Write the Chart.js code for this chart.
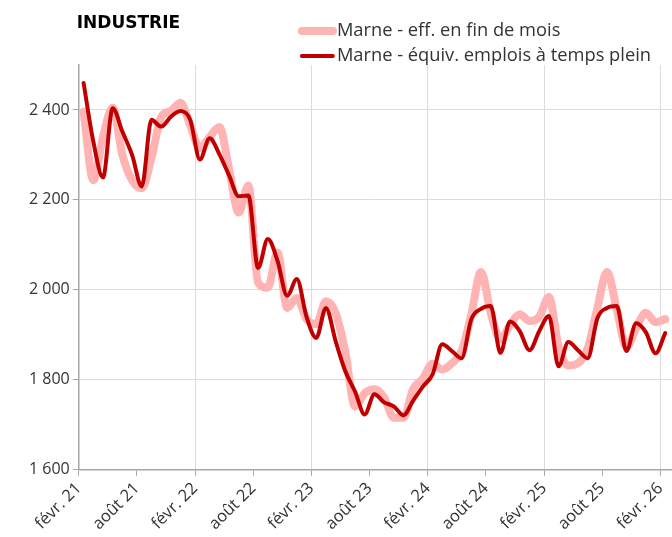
<!DOCTYPE html>
<html>
<head>
<meta charset="utf-8">
<script src="https://cdn.jsdelivr.net/npm/chart.js@4/dist/chart.umd.min.js"></script>
<style>
  html, body { margin: 0; padding: 0; background: #fff; }
</style>
</head>
<body>
<canvas id="chart" width="672" height="537"></canvas>
<script>
// Chart title and series names
const chartTitle = 'INDUSTRIE';
const seriesNames = ['Marne - eff. en fin de mois', 'Marne - équiv. emplois à temps plein'];

// Tick labels on the x axis, one every 6 months (févr. 21 -> févr. 26)
const xTickLabels = ['févr. 21', 'août 21', 'févr. 22', 'août 22', 'févr. 23', 'août 23',
                     'févr. 24', 'août 24', 'févr. 25', 'août 25', 'févr. 26'];

// Monthly values, févr. 2021 to févr. 2026 (61 months)
const effectifs = [
    2396, 2244, 2340, 2405, 2300, 2244, 2226, 2293, 2384, 2398, 2416, 2366,
    2315, 2340, 2362, 2270, 2172, 2232, 2016, 2005, 2083, 1960, 1982, 1935,
    1924, 1975, 1949, 1862, 1741, 1770, 1779, 1761, 1716, 1716, 1779, 1803,
    1836, 1823, 1837, 1864, 1946, 2040, 1949, 1890, 1922, 1946, 1931, 1940,
    1984, 1875, 1832, 1837, 1870, 1960, 2040, 1957, 1873, 1915, 1949, 1928,
    1935
];
const equivTempsPlein = [
    2460, 2330, 2250, 2404, 2352, 2300, 2230, 2378, 2363, 2385, 2398, 2378,
    2290, 2337, 2302, 2255, 2208, 2210, 2049, 2113, 2065, 1987, 2024, 1940,
    1893, 1960, 1886, 1819, 1774, 1723, 1768, 1750, 1741, 1721, 1754, 1785,
    1812, 1879, 1864, 1848, 1935, 1958, 1964, 1860, 1930, 1908, 1866, 1908,
    1942, 1830, 1884, 1866, 1848, 1937, 1960, 1964, 1864, 1926, 1906, 1859,
    1904
];

// Points are plotted in the middle of each month
function toPoints(values) {
    return values.map((v, i) => ({ x: i + 0.5, y: v }));
}

function formatThousands(v) {
    return String(v).replace(/\B(?=(\d{3})+(?!\d))/g, ' ');
}

Chart.defaults.font.family = '"Open Sans", sans-serif';
Chart.defaults.color = '#333';

// Title on the left and stacked legend on the right, above the plot
const headerPlugin = {
    id: 'header',
    afterDraw(chart) {
        const c = chart.ctx;
        c.save();
        c.font = 'bold 17px "DejaVu Sans"';
        c.fillStyle = '#000';
        c.textBaseline = 'alphabetic';
        c.fillText(chartTitle, chart.chartArea.left - 2, 28);

        c.font = '18.3px "Open Sans"';
        const sets = chart.data.datasets;
        const textW = Math.max(...sets.map(d => c.measureText(d.label).width));
        const textX = chart.width - 21 - textW;
        sets.forEach((d, k) => {
            const y = 31 + k * 25;
            c.strokeStyle = d.borderColor;
            c.lineWidth = d.borderWidth;
            c.lineCap = 'round';
            c.beginPath();
            c.moveTo(textX - 35, y);
            c.lineTo(textX - 4, y);
            c.stroke();
            c.fillStyle = '#333';
            c.textBaseline = 'middle';
            c.fillText(d.label, textX, y);
        });
        c.restore();
    }
};

const ctx = document.getElementById('chart').getContext('2d');
const myChart = new Chart(ctx, {
    type: 'line',
    data: {
        datasets: [
            {
                label: seriesNames[0],
                data: toPoints(effectifs),
                borderColor: '#ffb3b3',
                borderWidth: 8,
                pointRadius: 0,
                cubicInterpolationMode: 'monotone',
                borderCapStyle: 'round',
                borderJoinStyle: 'round',
                fill: false,
                order: 2
            },
            {
                label: seriesNames[1],
                data: toPoints(equivTempsPlein),
                borderColor: '#c00000',
                borderWidth: 4,
                pointRadius: 0,
                cubicInterpolationMode: 'monotone',
                borderCapStyle: 'round',
                borderJoinStyle: 'round',
                fill: false,
                order: 1
            }
        ]
    },
    options: {
        responsive: false,
        animation: false,
        devicePixelRatio: 1,
        layout: { padding: { top: 65, left: 26, right: 0, bottom: 0 } },
        plugins: {
            legend: { display: false },
            title: { display: false },
            tooltip: { enabled: false }
        },
        scales: {
            x: {
                type: 'linear',
                min: 0,
                max: 61.2,
                // let the plot run to the right edge, the rotated labels do not need room there
                afterFit: scale => { scale.paddingRight = 0; },
                ticks: {
                    stepSize: 6,
                    includeBounds: false,
                    autoSkip: false,
                    maxRotation: 45,
                    minRotation: 45,
                    font: { size: 16.5 },
                    color: '#333',
                    callback: v => xTickLabels[Math.round(v / 6)]
                },
                grid: {
                    color: c => (c.tick && Math.round(c.tick.value) % 12 === 0) ? '#dcdcdc' : 'rgba(0,0,0,0)',
                    tickColor: '#a6a6a6',
                    tickLength: 6
                },
                border: { color: '#a6a6a6', width: 1.5 }
            },
            y: {
                min: 1600,
                max: 2500,
                ticks: {
                    stepSize: 200,
                    includeBounds: false,
                    font: { size: 16 },
                    color: '#333',
                    callback: v => formatThousands(v)
                },
                grid: {
                    color: '#dcdcdc',
                    tickColor: '#a6a6a6',
                    tickLength: 6
                },
                border: { color: '#a6a6a6', width: 1.5 }
            }
        }
    },
    plugins: [headerPlugin]
});
</script>
</body>
</html>
